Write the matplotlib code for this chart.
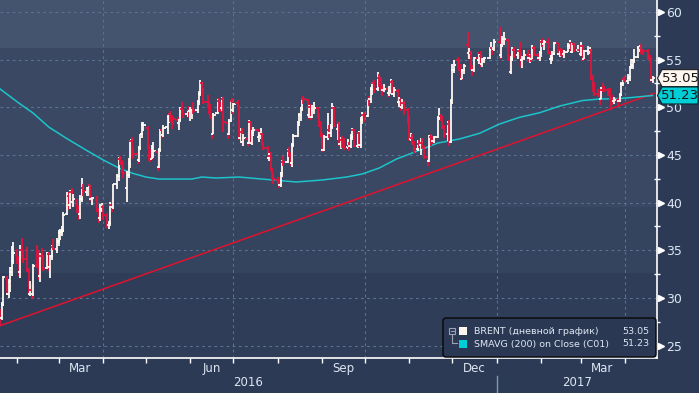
import numpy as np
import pandas as pd
import matplotlib
matplotlib.use("Agg")
import matplotlib.pyplot as plt
import matplotlib.dates as mdates
import matplotlib.transforms as mtransforms
from matplotlib.collections import LineCollection
from matplotlib.patches import Polygon, FancyBboxPatch, Rectangle
from matplotlib.lines import Line2D
from matplotlib.ticker import MultipleLocator, NullFormatter

# ---------------- data ----------------
first_day = "2016-01-20"
last_day = "2017-04-20"
holidays = ["2016-03-25", "2016-12-26", "2017-01-02", "2017-04-14"]

opens = [
    28.76, 27.95, 29.30, 32.00, 30.40, 31.70, 32.70, 33.90,  # jan 16
    34.50, 34.10, 32.70, 35.00, 34.40, 34.10, 32.90, 30.40, 30.80, 30.40, 33.50, 33.50, 32.30, 34.40, 34.20, 33.10, 34.60, 33.20, 34.40, 35.30, 35.10,  # feb
    35.90, 36.80, 36.90, 37.10, 38.80, 40.70, 39.70, 41.10, 40.10, 40.20, 39.40, 38.80, 40.40, 41.50, 41.10, 41.50, 41.80, 40.40, 40.30, 39.20, 38.40, 39.30,  # mar
    39.50, 38.60, 37.70, 37.90, 39.80, 39.50, 41.90, 42.80, 44.60, 44.20, 43.80, 41.50, 42.90, 44.10, 46.50, 45.30, 45.10, 44.50, 45.70, 47.20, 48.10,  # apr
    47.80, 45.80, 44.90, 44.60, 45.00, 45.30, 43.70, 45.50, 47.60, 47.10, 47.90, 49.00, 49.30, 48.90, 48.80, 48.70, 48.30, 48.70, 49.80, 49.60, 49.30, 49.70,  # may
    49.60, 49.70, 49.90, 49.70, 50.60, 51.40, 52.50, 51.90, 50.50, 50.30, 49.80, 48.90, 47.20, 49.40, 50.60, 49.90, 49.90, 50.90, 48.30, 47.20, 48.60, 50.60,  # jun
    49.70, 50.40, 50.10, 46.80, 47.40, 46.40, 46.70, 46.30, 48.40, 46.30, 47.40, 47.60, 46.90, 47.10, 47.20, 46.20, 45.70, 44.70, 44.90, 43.40, 42.70,  # jul
    42.40, 42.10, 41.80, 43.10, 44.30, 44.30, 45.40, 45.00, 44.10, 46.00, 47.00, 48.40, 49.20, 49.90, 50.90, 50.80, 49.20, 50.00, 49.00, 49.70, 49.90, 49.20, 48.40,  # aug
    47.00, 45.50, 46.90, 47.60, 47.30, 47.90, 49.90, 47.70, 48.30, 46.10, 46.60, 46.60, 45.80, 45.90, 45.90, 46.80, 47.60, 45.90, 47.30, 46.00, 48.70, 49.20,  # sep
    49.10, 50.90, 50.90, 51.90, 52.50, 51.90, 53.10, 52.40, 52.00, 51.80, 51.90, 51.50, 51.70, 52.60, 51.40, 51.70, 50.50, 50.80, 50.00, 50.40, 49.70,  # oct
    48.40, 46.70, 46.80, 46.30, 45.60, 46.10, 46.00, 46.30, 45.80, 44.80, 44.40, 46.90, 46.60, 46.50, 46.90, 48.90, 49.10, 48.90, 47.90, 47.20, 48.20, 46.40,  # nov
    50.60, 53.90, 55.00, 54.90, 53.90, 53.00, 53.90, 56.50, 55.70, 55.70, 54.00, 53.90, 55.20, 54.90, 55.40, 54.50, 55.00, 55.20, 56.10, 56.20, 56.10,  # dec
    56.80, 55.50, 56.50, 57.10, 57.00, 54.90, 53.70, 55.10, 56.00, 55.50, 55.90, 55.50, 54.90, 55.20, 55.50, 55.20, 55.40, 55.10, 56.20, 55.50, 55.20,  # jan 17
    55.70, 56.80, 56.60, 56.80, 55.70, 55.10, 55.10, 55.60, 56.70, 55.60, 56.00, 55.80, 55.60, 55.80, 56.40, 56.70, 55.80, 56.60, 56.00, 56.00,  # feb
    55.60, 56.40, 55.10, 55.90, 55.90, 56.00, 53.10, 52.20, 51.40, 51.30, 50.90, 51.80, 51.80, 51.80, 51.60, 50.90, 50.60, 50.60, 50.80, 50.70, 51.30, 52.40, 53.00,  # mar
    52.80, 53.10, 54.20, 54.40, 54.90, 55.30, 56.20, 56.20, 55.90, 55.90, 55.30, 54.90, 52.90,  # apr
]
highs = [
    28.82, 29.56, 32.35, 32.30, 31.99, 33.30, 35.49, 35.82,
    35.16, 34.43, 35.53, 36.25, 35.05, 35.30, 33.13, 31.80, 31.50, 33.59, 35.55, 35.03, 34.71, 35.26, 34.55, 34.86, 34.80, 34.50, 35.56, 36.20, 36.25,
    37.17, 37.25, 37.60, 38.98, 41.07, 41.12, 41.28, 41.50, 40.95, 40.34, 39.72, 40.83, 42.54, 42.00, 41.64, 41.95, 41.89, 40.62, 40.74, 39.42, 39.81, 40.00,
    39.71, 38.93, 38.12, 40.10, 40.33, 42.00, 43.04, 44.83, 44.90, 44.43, 44.32, 43.30, 44.68, 46.60, 46.85, 45.60, 45.30, 45.97, 47.24, 48.50, 48.50,
    48.00, 46.10, 45.58, 46.09, 46.34, 45.59, 45.77, 47.75, 47.84, 48.13, 49.23, 49.43, 49.61, 49.16, 49.01, 48.99, 48.78, 50.03, 50.51, 49.85, 49.80, 50.10,
    50.04, 50.07, 50.50, 50.70, 51.65, 52.86, 52.60, 52.02, 51.33, 50.68, 50.29, 49.00, 49.36, 50.85, 50.94, 50.50, 51.10, 51.05, 48.50, 48.80, 50.73, 51.00,
    50.46, 50.80, 50.12, 47.80, 47.80, 47.20, 47.39, 48.66, 48.50, 47.60, 47.94, 47.75, 47.38, 47.85, 47.33, 46.36, 45.92, 45.21, 45.32, 43.61, 43.07,
    42.70, 42.41, 43.24, 44.43, 44.84, 45.58, 45.80, 45.35, 46.21, 47.17, 48.50, 49.43, 49.98, 51.01, 51.22, 50.90, 50.20, 50.31, 50.21, 50.58, 49.98, 49.30, 48.48,
    47.26, 47.09, 49.39, 48.10, 48.20, 50.42, 50.04, 48.40, 48.45, 46.85, 47.01, 46.80, 46.68, 46.34, 47.19, 47.83, 47.68, 47.40, 47.37, 48.97, 49.51, 49.46,
    51.00, 51.18, 52.08, 52.60, 52.85, 53.73, 53.50, 53.12, 52.35, 52.48, 52.09, 52.20, 52.92, 52.86, 52.08, 51.90, 51.06, 50.96, 50.90, 50.70, 49.93,
    49.12, 47.27, 47.19, 46.40, 46.57, 46.55, 46.75, 46.75, 45.93, 45.37, 47.10, 47.21, 47.00, 47.00, 49.10, 49.93, 49.30, 49.05, 48.12, 48.60, 48.66, 50.90,
    54.53, 55.00, 55.28, 55.10, 54.56, 54.03, 54.52, 57.89, 56.18, 55.88, 54.44, 55.27, 55.78, 55.58, 55.88, 55.19, 55.23, 56.30, 56.83, 56.25, 57.12,
    58.37, 56.58, 57.47, 57.84, 57.15, 55.44, 55.39, 56.30, 56.36, 56.10, 56.87, 55.93, 55.38, 56.04, 55.95, 55.63, 55.55, 56.49, 56.46, 55.72, 55.88,
    57.00, 57.21, 57.07, 57.22, 55.85, 55.45, 55.93, 56.84, 56.72, 56.12, 56.25, 56.13, 56.00, 56.74, 57.06, 56.88, 56.77, 56.73, 56.52, 56.47,
    56.80, 56.50, 56.03, 56.46, 56.32, 56.14, 53.40, 52.64, 51.90, 51.70, 52.14, 52.53, 52.20, 52.04, 51.98, 51.04, 51.23, 51.05, 51.00, 51.50, 52.65, 53.11, 53.30,
    53.47, 54.25, 55.02, 54.96, 56.08, 56.37, 56.51, 56.65, 56.14, 56.09, 55.44, 55.21, 53.26,
]
lows = [
    27.10, 27.67, 29.21, 30.29, 30.05, 30.60, 32.35, 33.53,
    33.56, 32.32, 32.06, 34.13, 33.64, 32.69, 30.28, 30.16, 29.92, 30.26, 33.10, 31.84, 31.66, 33.95, 32.82, 32.99, 32.81, 32.06, 33.98, 35.00, 34.73,
    35.50, 36.10, 36.51, 36.94, 38.65, 39.20, 39.38, 39.67, 39.54, 38.86, 38.14, 38.28, 40.08, 40.69, 40.66, 40.74, 40.19, 39.76, 38.99, 37.84, 38.07, 39.03,
    38.21, 37.30, 37.19, 37.58, 39.00, 39.34, 41.44, 42.31, 43.90, 43.10, 42.62, 40.10, 42.60, 43.66, 45.00, 44.55, 44.02, 44.25, 45.50, 46.80, 47.46,
    45.61, 44.35, 44.30, 44.55, 44.63, 43.28, 43.59, 45.26, 46.82, 46.90, 47.15, 48.37, 48.43, 47.75, 48.12, 47.96, 47.63, 48.42, 49.31, 48.90, 48.95, 48.82,
    48.57, 48.80, 49.32, 49.40, 50.26, 51.18, 51.44, 50.31, 49.96, 49.34, 48.82, 46.69, 47.16, 49.33, 49.55, 49.50, 49.65, 47.37, 46.64, 47.04, 48.50, 49.32,
    49.52, 49.91, 46.58, 46.28, 45.94, 45.97, 45.94, 46.12, 46.10, 46.08, 46.94, 46.54, 46.40, 46.70, 46.02, 45.50, 44.59, 44.33, 43.40, 42.42, 41.95,
    41.91, 41.51, 41.59, 42.71, 43.88, 44.12, 44.74, 43.80, 43.73, 45.81, 46.90, 48.07, 48.55, 49.64, 50.36, 48.73, 48.88, 48.67, 48.90, 49.32, 48.90, 47.95, 46.84,
    45.26, 45.37, 46.60, 46.80, 46.90, 47.70, 48.00, 46.60, 45.95, 45.59, 45.75, 45.47, 45.59, 45.38, 45.74, 46.60, 45.81, 45.70, 45.87, 45.73, 48.20, 48.50,
    48.96, 50.10, 50.42, 51.27, 51.52, 51.75, 52.08, 51.75, 51.21, 51.55, 51.02, 51.20, 51.37, 51.26, 51.04, 50.38, 50.07, 49.64, 49.86, 49.21, 48.25,
    46.48, 46.51, 46.08, 45.16, 45.46, 45.68, 44.94, 45.64, 44.52, 43.80, 44.25, 45.95, 46.13, 46.20, 46.75, 48.71, 48.57, 47.76, 46.78, 46.51, 45.98, 46.30,
    50.50, 53.55, 54.07, 53.80, 52.96, 52.98, 53.53, 55.15, 55.05, 53.89, 53.31, 53.73, 54.49, 54.51, 54.26, 54.21, 54.64, 55.01, 55.86, 55.43, 55.85,
    55.01, 55.21, 56.30, 56.56, 54.81, 53.64, 53.46, 54.85, 55.19, 55.07, 55.20, 54.25, 54.14, 54.92, 54.79, 54.61, 54.71, 55.01, 55.40, 54.94, 54.89,
    55.29, 56.27, 56.05, 55.55, 54.89, 54.54, 54.89, 55.50, 55.49, 55.25, 55.38, 55.23, 55.16, 55.75, 56.15, 55.65, 55.72, 55.79, 55.77, 55.34,
    55.40, 54.89, 55.02, 55.48, 55.53, 52.86, 51.56, 51.21, 51.09, 50.25, 50.84, 51.62, 51.59, 51.16, 50.76, 49.71, 50.28, 50.35, 50.11, 50.57, 51.13, 52.26, 52.64,
    52.40, 52.77, 54.04, 54.00, 54.68, 55.12, 55.83, 55.58, 55.48, 55.00, 54.64, 52.64, 52.50,
]
closes = [
    27.88, 29.25, 32.18, 30.50, 31.80, 33.10, 33.89, 34.74,
    34.24, 32.72, 35.04, 34.46, 34.06, 32.88, 30.32, 30.84, 30.06, 33.36, 33.39, 32.18, 34.50, 34.28, 33.01, 34.69, 33.27, 34.41, 35.29, 35.10, 35.97,
    36.81, 36.93, 37.07, 38.72, 40.84, 39.65, 41.07, 40.05, 40.39, 39.53, 38.74, 40.33, 41.54, 41.20, 41.54, 41.79, 40.47, 40.44, 39.14, 38.28, 39.26, 39.60,
    38.67, 37.69, 37.87, 39.84, 39.43, 41.94, 42.83, 44.69, 44.18, 43.84, 43.10, 42.91, 44.03, 46.53, 45.29, 45.11, 44.48, 45.74, 47.18, 48.14, 48.13,
    45.83, 44.97, 44.62, 45.01, 45.37, 43.63, 45.52, 47.59, 47.08, 47.83, 48.97, 49.28, 48.93, 48.81, 48.72, 48.35, 48.61, 49.74, 49.59, 49.32, 49.76, 49.69,
    49.72, 49.97, 49.64, 50.55, 51.44, 52.51, 51.95, 50.54, 50.35, 49.83, 48.97, 47.19, 49.17, 50.65, 49.88, 49.88, 50.91, 48.41, 47.16, 48.58, 50.61, 49.68,
    50.35, 50.10, 46.80, 47.43, 46.40, 46.76, 46.25, 48.47, 46.26, 47.37, 47.61, 46.96, 47.12, 47.17, 46.20, 45.69, 44.72, 44.87, 43.47, 42.70, 42.46,
    42.14, 41.80, 43.10, 44.29, 44.27, 45.39, 44.98, 44.05, 46.04, 46.97, 48.35, 49.23, 49.85, 50.89, 50.88, 49.16, 49.96, 49.05, 49.67, 49.92, 49.26, 48.37, 47.04,
    45.45, 46.83, 47.63, 47.26, 47.91, 49.99, 48.01, 48.32, 46.10, 46.59, 46.59, 45.77, 45.95, 45.88, 46.83, 47.65, 45.89, 47.35, 45.97, 48.69, 49.24, 49.06,
    50.89, 50.87, 51.86, 52.51, 51.93, 53.14, 52.41, 52.03, 51.81, 51.95, 51.52, 51.68, 52.67, 51.38, 51.78, 50.52, 50.79, 49.98, 50.47, 49.71, 48.30,
    46.67, 46.86, 46.35, 45.58, 46.15, 46.04, 46.36, 45.84, 44.75, 44.43, 46.95, 46.63, 46.49, 46.86, 48.90, 49.12, 48.95, 47.96, 47.24, 48.24, 46.38, 50.47,
    53.94, 54.46, 54.94, 53.93, 53.00, 53.89, 54.33, 55.69, 55.72, 54.02, 53.90, 55.21, 54.92, 55.35, 54.46, 55.05, 55.16, 56.09, 56.22, 56.14, 56.82,
    55.47, 56.46, 57.10, 57.10, 54.94, 53.64, 55.10, 56.01, 55.45, 55.86, 55.47, 54.92, 55.16, 55.49, 55.23, 55.44, 55.08, 56.24, 55.52, 55.23, 55.70,
    56.80, 56.56, 56.81, 55.72, 55.05, 55.12, 55.63, 56.70, 55.59, 55.97, 55.75, 55.65, 55.81, 56.42, 56.66, 55.84, 56.58, 55.99, 56.01, 55.59,
    56.36, 55.08, 55.90, 55.90, 56.01, 53.11, 52.19, 51.37, 51.35, 50.92, 51.81, 51.77, 51.76, 51.62, 50.96, 50.64, 50.56, 50.80, 50.75, 51.33, 52.42, 52.96, 52.83,
    53.12, 54.17, 54.36, 54.89, 55.24, 56.23, 56.23, 55.86, 55.89, 55.36, 54.89, 52.93, 53.05,
]

# 200-day moving average
sma_dates = ["2016-01-20", "2016-02-02", "2016-02-12", "2016-02-23", "2016-03-06", "2016-03-20",
             "2016-04-01", "2016-04-12", "2016-04-21", "2016-05-01", "2016-05-10", "2016-06-02",
             "2016-06-09", "2016-06-19", "2016-07-05", "2016-07-21", "2016-08-14", "2016-09-01",
             "2016-09-18", "2016-09-29", "2016-10-11", "2016-10-23", "2016-11-03", "2016-11-21",
             "2016-12-06", "2016-12-20", "2017-01-03", "2017-01-17", "2017-01-31", "2017-02-14",
             "2017-03-02", "2017-03-13", "2017-03-27", "2017-04-07", "2017-04-20"]
sma_vals = [51.91, 50.44, 49.39, 47.92, 46.77, 45.51,
            44.47, 43.63, 43.10, 42.68, 42.47, 42.47,
            42.68, 42.58, 42.68, 42.47, 42.16, 42.37,
            42.68, 43.00, 43.63, 44.57, 45.20, 46.25,
            46.67, 47.26, 48.24, 48.94, 49.42, 50.12,
            50.70, 50.85, 50.90, 51.04, 51.23]

trend_dates = ["2016-01-20", "2017-04-21"]
trend_vals = [27.10, 51.45]

last_price = 53.05
last_sma = 51.23
legend_rows = ["BRENT (дневной график)", "SMAVG (200) on Close (C01)"]

# ---------------- style ----------------
W, H = 699, 393
PLOT_W, PLOT_H = 656.5, 358
WHITE = "#fffaf3"
RED = "#e3133c"
CYAN = "#1cc4cb"
TXT = "#dde6f2"
GRID = "#5a7290"

plt.rcParams["font.family"] = ["DejaVu Sans"]

fig = plt.figure(figsize=(W / 100, H / 100), dpi=100)
fig.patch.set_facecolor("#2c3a55")
ax = fig.add_axes([0, 1 - PLOT_H / H, PLOT_W / W, PLOT_H / H])
ax.set_facecolor("#3a4863")

# stepped background (pixel rows from top of plot)
bands = [(0, 48, "#44546f"), (48, 207, "#3a4863"), (207, 273, "#34435e"), (273, 358, "#2f3d58")]
for top, bot, col in bands:
    ax.add_patch(Rectangle((0, 1 - bot / PLOT_H), 1, (bot - top) / PLOT_H,
                           transform=ax.transAxes, color=col, lw=0, zorder=0))

dates = pd.bdate_range(first_day, last_day)
dates = dates[~dates.isin(pd.to_datetime(holidays))]
x = mdates.date2num(dates)

ax.set_xlim(mdates.date2num(pd.Timestamp("2016-01-19 21:30")),
            mdates.date2num(pd.Timestamp("2017-04-22 17:00")))
ax.set_ylim(23.71, 61.24)

# dashed grid
for v in range(25, 61, 5):
    ax.axhline(v, color=GRID, lw=0.8, ls=(0, (2.5, 3)), zorder=1)
for d in ["2016-04-01", "2016-07-01", "2016-10-01", "2017-01-01", "2017-04-01"]:
    ax.axvline(mdates.date2num(pd.Timestamp(d)), color=GRID, lw=0.8, ls=(0, (2.5, 3)), zorder=1)

# trend line and moving average
ax.plot(pd.to_datetime(trend_dates), trend_vals, color="#e0122e", lw=1.1, zorder=3)
ax.plot(pd.to_datetime(sma_dates), sma_vals, color=CYAN, lw=1.1, zorder=3)

# OHLC bars
tick = 1.6
segs, cols = [], []
for xi, o, h, l, c in zip(x, opens, highs, lows, closes):
    col = WHITE if c >= o else RED
    segs += [[(xi, l), (xi, h)], [(xi - tick, o), (xi, o)], [(xi, c), (xi + tick, c)]]
    cols += [col] * 3
ax.add_collection(LineCollection(segs, colors=cols, linewidths=1.3, zorder=4, capstyle="butt"))

# axes / spines
for s in ["left", "top"]:
    ax.spines[s].set_visible(False)
for s in ["right", "bottom"]:
    ax.spines[s].set_color("white")
    ax.spines[s].set_linewidth(1.2)

ax.yaxis.tick_right()
ax.set_yticks(range(25, 61, 5))
ax.yaxis.set_minor_locator(MultipleLocator(2.5))
ax.tick_params(axis="y", which="major", length=0, pad=6.8, labelsize=9, labelcolor=TXT)
ax.tick_params(axis="y", which="minor", length=4, width=1, color="white", direction="inout")
ytr = mtransforms.blended_transform_factory(ax.transAxes, ax.transData)
ax.plot([1 + 4.5 / PLOT_W] * 8, list(range(25, 61, 5)), ls="none", marker=">", ms=4.5,
        color="white", transform=ytr, clip_on=False, zorder=6)

ax.xaxis.set_major_locator(mdates.MonthLocator())
ax.xaxis.set_major_formatter(NullFormatter())
ax.xaxis.set_minor_locator(mdates.MonthLocator(bymonth=[3, 6, 9, 12], bymonthday=16))
ax.xaxis.set_minor_formatter(mdates.DateFormatter("%b"))
ax.tick_params(axis="x", which="major", length=3.5, width=1, color="white", direction="out")
ax.tick_params(axis="x", which="minor", length=0, pad=3, labelsize=8.5, labelcolor=TXT)

# year row
xtr = mtransforms.blended_transform_factory(ax.transData, ax.transAxes)
x0, x1 = ax.get_xlim()
ny = mdates.date2num(pd.Timestamp("2017-01-01"))
ax.text((x0 + ny) / 2, -0.0698, "2016", transform=xtr, ha="center", va="center",
        fontsize=8.5, color=TXT)
ax.text((ny + x1) / 2, -0.0698, "2017", transform=xtr, ha="center", va="center",
        fontsize=8.5, color=TXT)
ax.plot([ny, ny], [-0.0503, -0.1], transform=xtr, color="#8796ab", lw=1, clip_on=False)

# last-value tags on the price axis
ident = mtransforms.IdentityTransform()


def tag(val, face, edge):
    yc = ax.transData.transform((x0, val))[1]
    hh = 8.5
    pts = [(657.5, yc), (662, yc + hh), (698, yc + hh), (698, yc - hh), (662, yc - hh)]
    fig.add_artist(Polygon(pts, closed=True, transform=ident, fc=face, ec=edge, lw=0.8, zorder=10))
    fig.text(680.5 / W, yc / H, f"{val:.2f}", ha="center", va="center", fontsize=9.5,
             color="#141414", zorder=11)


tag(last_price, "#fdf6ee", "#222222")
tag(last_sma, "#00ced6", "#0b2a30")

# legend box
fig.add_artist(FancyBboxPatch((443, 36), 213, 39, boxstyle="round,pad=0,rounding_size=3",
                              transform=ident, fc="#2b3853", ec="#070707", lw=1.0, zorder=8))
fig.add_artist(Rectangle((449, 59), 6, 6, transform=ident, fill=False, ec="#9aa4b2", lw=0.8, zorder=9))
fig.add_artist(Line2D([450.5, 453.5], [62, 62], transform=ident, color="#9aa4b2", lw=0.8, zorder=9))
fig.add_artist(Line2D([452, 452, 457], [59, 50, 50], transform=ident, color="#9aa4b2", lw=0.8, zorder=9))
fig.add_artist(Rectangle((459, 58), 8, 8, transform=ident, fc="#fdf6ee", lw=0, zorder=9))
fig.add_artist(Rectangle((459, 45), 8, 8, transform=ident, fc="#00ced6", lw=0, zorder=9))
for row, (label, val) in enumerate(zip(legend_rows, [last_price, last_sma])):
    yy = (62 - 13 * row) / H
    fig.text(474 / W, yy, label, ha="left", va="center", fontsize=6.8, color=TXT, zorder=10)
    fig.text(649 / W, yy, f"{val:.2f}", ha="right", va="center", fontsize=6.8, color=TXT, zorder=10)

fig.savefig("out.png", dpi=100, facecolor=fig.get_facecolor())
